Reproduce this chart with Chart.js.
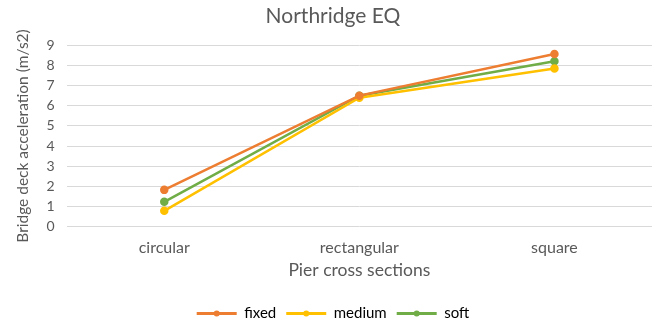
<!DOCTYPE html>
<html>
<head>
<meta charset="utf-8">
<script src="https://cdn.jsdelivr.net/npm/chart.js@4"></script>
<style>
  html, body { margin: 0; padding: 0; background: #fff; }
  #wrap { width: 660px; height: 327px; }
</style>
</head>
<body>
<div id="wrap"><canvas id="chart"></canvas></div>
<script>
// Pier cross sections
const sections = ['circular', 'rectangular', 'square'];
// Bridge deck acceleration (m/s2) per soil condition
const fixedVals = [1.83, 6.5, 8.56];
const mediumVals = [0.79, 6.4, 7.85];
const softVals = [1.24, 6.5, 8.2];
const yTicks = [0, 1, 2, 3, 4, 5, 6, 7, 8, 9];

const textColor = '#595959';
const font = 'Lato, "Open Sans", sans-serif';

const line = (label, data, color) => ({
  label, data, borderColor: color, backgroundColor: color,
  borderWidth: 2.5, pointRadius: 3, pointHoverRadius: 3, tension: 0
});

// dot in the middle of each legend line, like the marker on the series
const legendDots = {
  id: 'legendDots',
  afterDraw(chart) {
    const lg = chart.legend;
    if (!lg || !lg.legendHitBoxes) return;
    const ctx = chart.ctx;
    const bw = lg.options.labels.boxWidth;
    lg.legendHitBoxes.forEach((box, i) => {
      const ds = chart.data.datasets[i];
      ctx.save();
      ctx.fillStyle = ds.borderColor;
      ctx.beginPath();
      ctx.arc(box.left + bw / 2, box.top + box.height / 2, 3, 0, Math.PI * 2);
      ctx.fill();
      ctx.restore();
    });
  }
};

new Chart(document.getElementById('chart'), {
  type: 'line',
  data: {
    labels: sections,
    datasets: [
      line('fixed', fixedVals, '#ED7D31'),
      line('medium', mediumVals, '#FFC000'),
      line('soft', softVals, '#70AD47')
    ]
  },
  plugins: [legendDots],
  options: {
    responsive: true, maintainAspectRatio: false, animation: false,
    layout: { padding: { left: 14, right: 8, top: 2, bottom: -4 } },
    plugins: {
      title: { display: true, text: 'Northridge EQ', color: textColor, font: { family: font, size: 21, weight: 'normal' }, padding: { top: 2, bottom: 16 } },
      legend: {
        position: 'bottom',
        labels: {
          color: textColor, font: { family: font, size: 15 },
          boxWidth: 40, boxHeight: 3, padding: 10,
          generateLabels: chart => chart.data.datasets.map((d, i) => ({
            text: d.label, fillStyle: d.borderColor, strokeStyle: d.borderColor,
            lineWidth: 0, datasetIndex: i
          }))
        }
      },
      tooltip: { enabled: false }
    },
    scales: {
      x: {
        offset: true,
        ticks: { color: textColor, font: { family: font, size: 16 }, padding: 3 },
        grid: { display: false },
        border: { display: false },
        title: { display: true, text: 'Pier cross sections', color: textColor, font: { family: font, size: 17.5 }, padding: { top: 0, bottom: 15 } }
      },
      y: {
        min: 0, max: 9,
        afterBuildTicks: axis => { axis.ticks = yTicks.map(v => ({ value: v })); },
        ticks: { color: textColor, font: { family: font, size: 14 }, padding: 12, autoSkip: false },
        grid: { color: '#D9D9D9', drawTicks: false },
        border: { display: false },
        title: { display: true, text: 'Bridge deck acceleration (m/s2)', color: textColor, font: { family: font, size: 15.5 }, padding: { top: 0, bottom: 2 } }
      }
    }
  }
});
</script>
</body>
</html>
